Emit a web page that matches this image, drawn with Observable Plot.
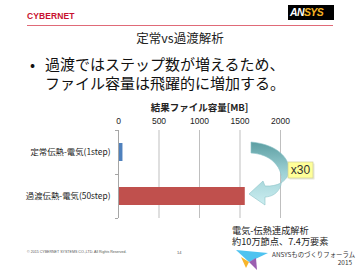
<!DOCTYPE html>
<html>
<head>
<meta charset="utf-8">
<script src="https://cdn.jsdelivr.net/npm/d3@7"></script>
<script src="https://cdn.jsdelivr.net/npm/@observablehq/plot@0.6"></script>
<style>
  html, body { margin: 0; padding: 0; background: #fff; }
  #wrap { position: relative; width: 360px; height: 270px; overflow: hidden; background: #fff;
          font-family: "Noto Sans CJK JP", "Noto Sans", sans-serif; }
  #chart { position: absolute; left: 0; top: 0; }
  #chart svg g[aria-label="x-axis label"] text { font-weight: 700; font-size: 9.5px; }
  #chart svg g[aria-label="x-axis tick label"] text { font-family: "Liberation Sans", Arial, sans-serif; font-size: 8.5px; }
  #chart svg g[aria-label="y-axis tick label"] text { font-size: 8.4px; }
  .abs { position: absolute; white-space: nowrap; }
</style>
</head>
<body>
<div id="wrap">
  <div id="chart"></div>
  <svg class="abs" style="left:0;top:0" width="360" height="270">
    <defs>
      <linearGradient id="arrowGrad" x1="0" y1="0" x2="0" y2="1">
        <stop offset="0" stop-color="#5c9ea2"/>
        <stop offset="0.5" stop-color="#9fd2d6"/>
        <stop offset="1" stop-color="#cdeef1"/>
      </linearGradient>
    </defs>
    <rect x="288" y="5" width="46" height="15" fill="#000"/>
    <line x1="27" y1="25.5" x2="333" y2="25.5" stroke="#e06a78" stroke-width="1"/>
    <path d="M251,142 C298,146 300,188 265,186 L263,181 L249,194 L265,205 L265,197 C290,196 288,155 251,153 Z"
          fill="url(#arrowGrad)" stroke="#8cc3c7" stroke-width="0.6"/>
    <rect x="289.5" y="163.5" width="25" height="16" fill="#d9d9c0" opacity="0.6"/>
    <rect x="288" y="162" width="25" height="16" fill="#ffff99" stroke="#cfcf9a" stroke-width="0.7"/>
    <polygon points="236,250 268,253 249,262" fill="#4fc3f0"/>
    <polygon points="241,257 249,262 246,268" fill="#f7b52c"/>
    <polygon points="249,262 256,258 257,270" fill="#9b5fb0"/>
  </svg>
  <div class="abs" style="left:27px;top:11px;font:700 8.5px 'Liberation Sans',Arial,sans-serif;color:#c8102e;letter-spacing:0.1px;">CYBERNET</div>
  <div class="abs" style="left:290px;top:6px;font:italic 700 10.5px 'Liberation Sans',Arial,sans-serif;letter-spacing:-0.6px;"><span style="color:#fff">AN</span><span style="color:#f5b324">SYS</span></div>
  <div class="abs" style="left:0;width:360px;top:28px;text-align:center;font-size:12.5px;color:#222;">定常vs過渡解析</div>
  <div class="abs" style="left:30px;top:55px;font-size:15px;line-height:18.5px;color:#111;">
    <div><span style="display:inline-block;width:15px;">•</span>過渡ではステップ数が増えるため、</div>
    <div><span style="display:inline-block;width:15px;"></span>ファイル容量は飛躍的に増加する。</div>
  </div>
  <div class="abs" style="left:288px;top:163px;width:25px;text-align:center;font:12px 'Liberation Sans',Arial,sans-serif;color:#333;line-height:14px;">x30</div>
  <div class="abs" style="left:232px;top:225px;font-size:9.2px;line-height:11px;color:#222;">電気-伝熱連成解析</div>
  <div class="abs" style="left:232px;top:236px;font-size:9.2px;line-height:11px;color:#222;">約10万節点、7.4万要素</div>
  <div class="abs" style="left:27px;top:250px;font:3.6px 'Liberation Sans',Arial,sans-serif;color:#555;">© 2015 CYBERNET SYSTEMS CO.,LTD. All Rights Reserved.</div>
  <div class="abs" style="left:177px;top:250px;font:4px 'Liberation Sans',Arial,sans-serif;color:#555;">14</div>
  <div class="abs" style="left:272px;top:251px;font-size:6.4px;line-height:8px;color:#333;text-align:right;width:80px;">ANSYSものづくりフォーラム<br>2015</div>
</div>
<script>
const categories = ["定常伝熱-電気(1step)", "過渡伝熱-電気(50step)"];
const fileSizeMB = [55, 1565];
const xTicks = [0, 500, 1000, 1500, 2000];
const axisTitle = "結果ファイル容量[MB]";

const rows = categories.map((c, i) => ({c, v: fileSizeMB[i]}));

const chart = Plot.plot({
  width: 360,
  height: 270,
  marginTop: 130,
  marginBottom: 52,
  marginLeft: 118,
  marginRight: 80,
  style: {fontFamily: "'Noto Sans CJK JP', sans-serif", fontSize: "9px", background: "transparent", color: "#222"},
  x: {domain: [0, 2000]},
  y: {domain: categories, paddingInner: 0.6, paddingOuter: 0.3},
  color: {domain: categories, range: ["#4f81bd", "#c0504d"]},
  marks: [
    Plot.gridX(xTicks, {stroke: "#bfbfbf", strokeOpacity: 1}),
    Plot.barX(rows, {x: "v", y: "c", fill: "c"}),
    Plot.ruleX([0], {stroke: "#a6a6a6"}),
    Plot.ruleY(categories, {y: d => d, x1: -37, x2: 0, dy: -22, stroke: "#a6a6a6"}),
    Plot.ruleY(categories.slice(-1), {y: d => d, x1: -37, x2: 0, dy: 22, stroke: "#a6a6a6"}),
    Plot.axisX(xTicks, {anchor: "top", tickSize: 0, tickPadding: 7, tickFormat: d => String(d), label: axisTitle, labelAnchor: "center", labelArrow: "none", labelOffset: 26}),
    Plot.axisY({anchor: "left", tickSize: 0, tickPadding: 8, label: null})
  ]
});
document.getElementById("chart").appendChild(chart);
</script>
</body>
</html>
